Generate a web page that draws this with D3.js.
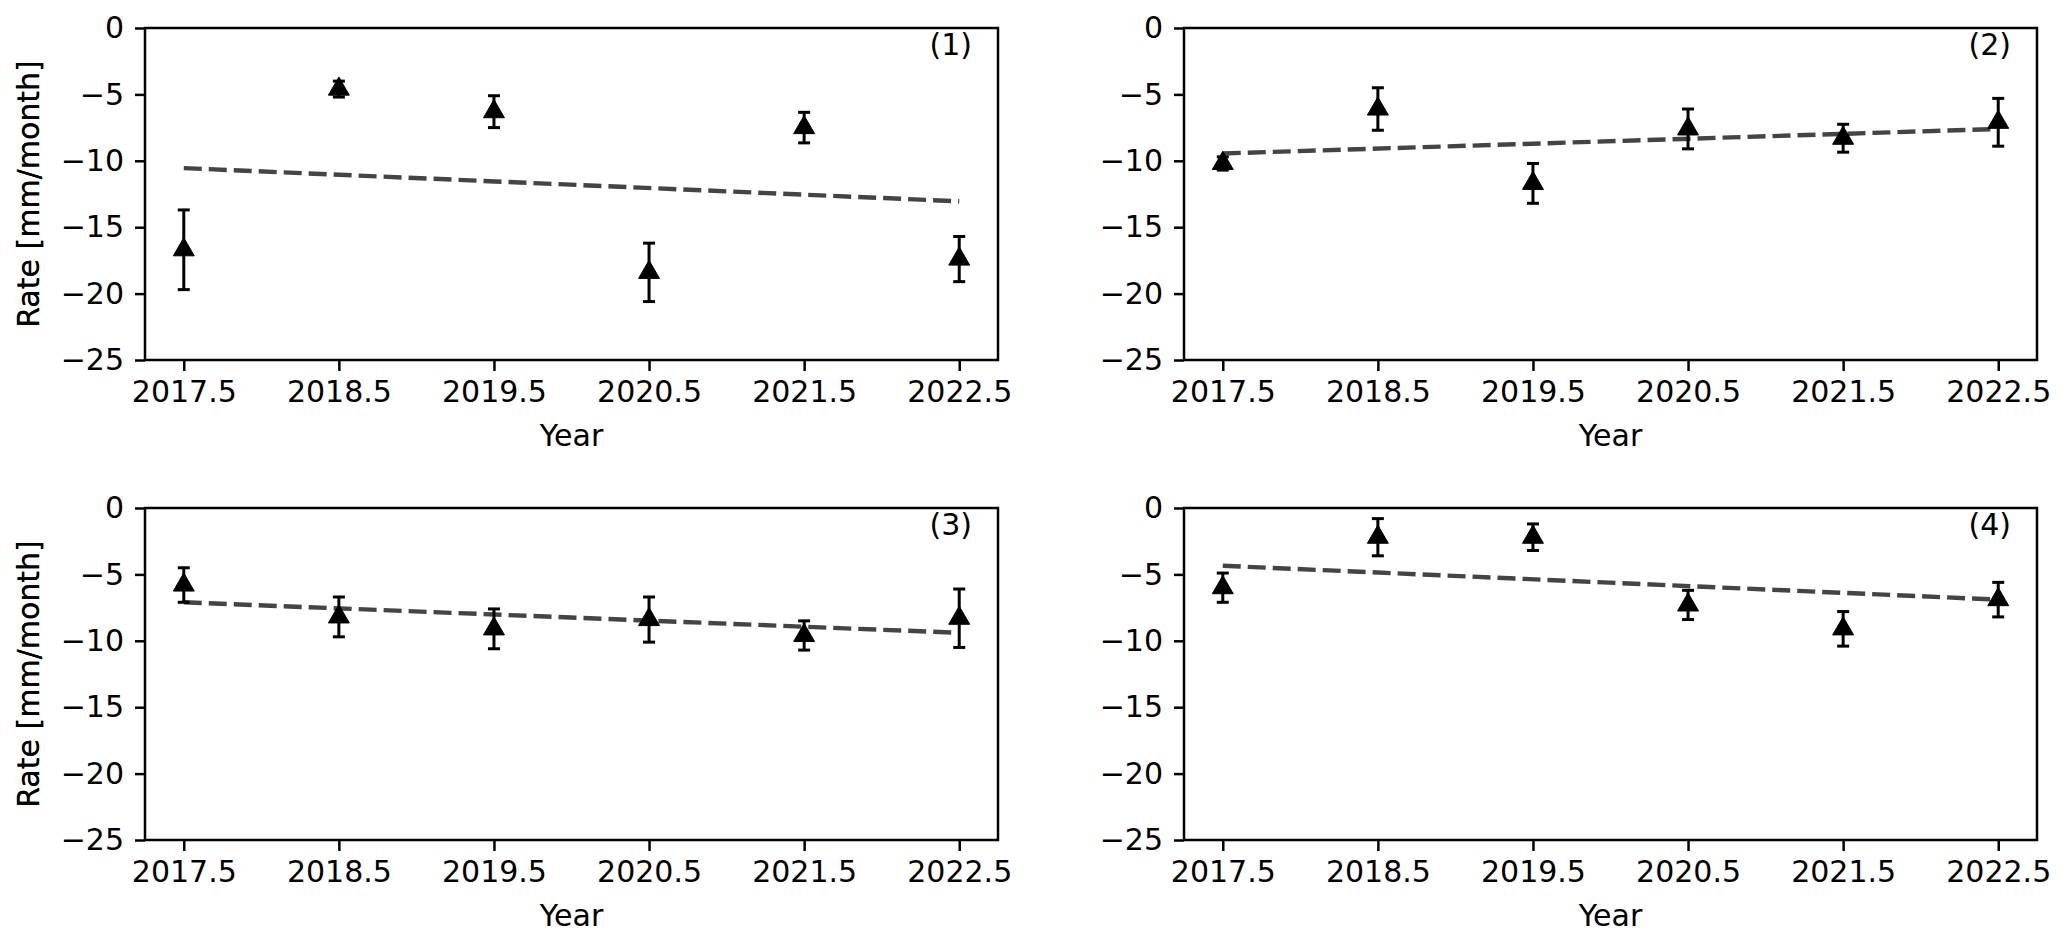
<!DOCTYPE html>
<html>
<head>
<meta charset="utf-8">
<script src="https://cdn.jsdelivr.net/npm/d3@7"></script>
<style>
  html, body { margin: 0; padding: 0; background: #fff; }
  svg { display: block; }
  text { font-family: "DejaVu Sans", sans-serif; fill: #000; }
</style>
</head>
<body>
<svg id="chart" width="2067" height="945"></svg>
<script>
// ---- data ----
const years = [2017.5, 2018.5, 2019.5, 2020.5, 2021.5, 2022.5];
const xTicks = [2017.5, 2018.5, 2019.5, 2020.5, 2021.5, 2022.5];
const yTicks = [0, -5, -10, -15, -20, -25];
const panelLabels = ["(1)", "(2)", "(3)", "(4)"];

const rate1 = [-16.7, -4.6, -6.3, -18.4, -7.5, -17.4];
const err1  = [3.0, 0.6, 1.2, 2.2, 1.15, 1.7];
const rate2 = [-10.2, -6.1, -11.7, -7.6, -8.3, -7.1];
const err2  = [0.5, 1.6, 1.5, 1.5, 1.05, 1.8];
const rate3 = [-5.8, -8.2, -9.1, -8.4, -9.6, -8.3];
const err3  = [1.3, 1.5, 1.5, 1.7, 1.1, 2.2];
const rate4 = [-6.0, -2.2, -2.2, -7.3, -9.1, -6.9];
const err4  = [1.1, 1.4, 1.0, 1.1, 1.3, 1.3];

// trend lines: value at first and last year
const trend1 = [-10.55, -13.05];
const trend2 = [-9.45, -7.6];
const trend3 = [-7.1, -9.4];
const trend4 = [-4.35, -6.9];

const rates = [rate1, rate2, rate3, rate4];
const errs = [err1, err2, err3, err4];
const trends = [trend1, trend2, trend3, trend4];

// ---- layout ----
const svg = d3.select("#chart");
const axW = 853, axH = 332;
const lefts = [145, 1184];
const tops = [28, 508];
const FS = 30;

for (let p = 0; p < 4; p++) {
  const x0 = lefts[p % 2], y0 = tops[Math.floor(p / 2)];
  const g = svg.append("g").attr("transform", `translate(${x0},${y0})`);
  const x = d3.scaleLinear().domain([2017.25, 2022.75]).range([0, axW]);
  const y = d3.scaleLinear().domain([-25, 0]).range([axH, 0]);

  // axes
  const xa = g.append("g").attr("transform", `translate(0,${axH})`)
    .call(d3.axisBottom(x).tickValues(xTicks).tickFormat(d3.format(".1f")).tickSize(11).tickPadding(10));
  const ya = g.append("g")
    .call(d3.axisLeft(y).tickValues(yTicks).tickFormat(d => d < 0 ? "\u2212" + Math.abs(d) : d).tickSize(10).tickPadding(11));
  [xa, ya].forEach(a => {
    a.select(".domain").remove();
    a.selectAll(".tick line").attr("stroke", "#000").attr("stroke-width", 2.5);
    a.selectAll(".tick text").style("font-size", FS + "px").style("font-family", "DejaVu Sans");
  });
  xa.selectAll(".tick text").attr("dy", "0.71em");

  // frame
  g.append("rect").attr("x", 0).attr("y", 0).attr("width", axW).attr("height", axH)
    .attr("fill", "none").attr("stroke", "#000").attr("stroke-width", 2.5);

  // axis labels
  g.append("text").attr("x", axW / 2).attr("y", axH + 86)
    .attr("text-anchor", "middle").style("font-size", FS + "px").text("Year");
  g.append("text")
    .attr("transform", `translate(${-x0 + 39},${axH / 2}) rotate(-90)`)
    .attr("text-anchor", "middle").style("font-size", FS + "px").text("Rate [mm/month]");

  // panel label
  g.append("text").attr("x", axW - 26).attr("y", 27)
    .attr("text-anchor", "end").style("font-size", FS + "px").text(panelLabels[p]);

  // trend line
  const tr = trends[p];
  g.append("line")
    .attr("x1", x(years[0])).attr("y1", y(tr[0]))
    .attr("x2", x(years[years.length - 1])).attr("y2", y(tr[1]))
    .attr("stroke", "#444").attr("stroke-width", 4.4)
    .attr("stroke-dasharray", "18,7");

  const pts = years.map((yr, i) => ({ yr, v: rates[p][i], e: errs[p][i] }));
  // error bars
  const eb = g.append("g");
  pts.forEach(d => {
    eb.append("line").attr("x1", x(d.yr)).attr("x2", x(d.yr))
      .attr("y1", y(d.v + d.e)).attr("y2", y(d.v - d.e))
      .attr("stroke", "#000").attr("stroke-width", 3);
    [d.v + d.e, d.v - d.e].forEach(c => {
      eb.append("line").attr("x1", x(d.yr) - 6).attr("x2", x(d.yr) + 6)
        .attr("y1", y(c)).attr("y2", y(c))
        .attr("stroke", "#000").attr("stroke-width", 3);
    });
  });
  // triangle markers
  const tri = d3.symbol().type(d3.symbolTriangle).size(190);
  g.append("g").selectAll("path").data(pts).join("path")
    .attr("d", tri)
    .attr("transform", d => `translate(${x(d.yr)},${y(d.v)})`)
    .attr("fill", "#000").attr("stroke", "#000").attr("stroke-width", 1);
}
</script>
</body>
</html>
